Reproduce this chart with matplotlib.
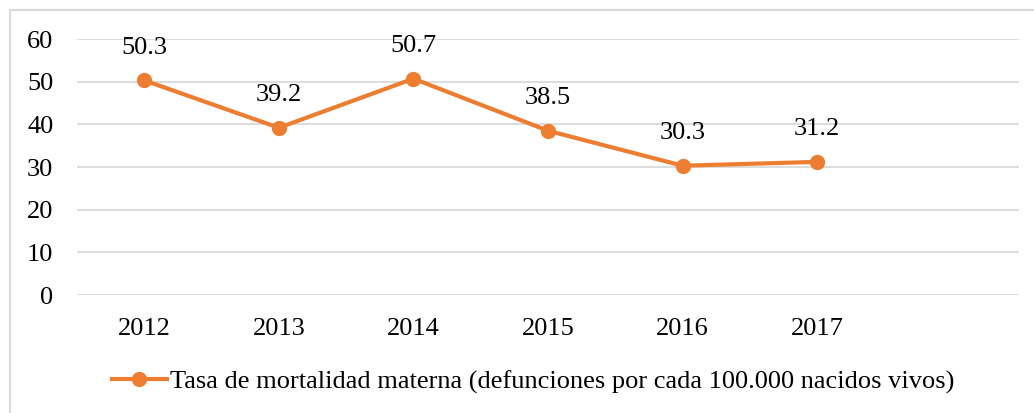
import matplotlib
matplotlib.use("Agg")
import matplotlib.pyplot as plt
from matplotlib.patches import Rectangle
from matplotlib.lines import Line2D

years = ["2012", "2013", "2014", "2015", "2016", "2017"]
values = [50.3, 39.2, 50.7, 38.5, 30.3, 31.2]
yticks = [0, 10, 20, 30, 40, 50, 60]
series_name = "Tasa de mortalidad materna (defunciones por cada 100.000 nacidos vivos)"

plt.rcParams['font.family'] = ['Liberation Serif', 'DejaVu Serif']
color = '#ED7D31'
fs = 19

fig = plt.figure(figsize=(10.34, 4.13), dpi=100)
fig.patches.append(Rectangle((10/1034, -0.1), 1.1, (413-10)/413 + 0.1, transform=fig.transFigure,
                             fill=False, edgecolor='#D9D9D9', linewidth=1.5))
ax = fig.add_axes([77/1034, 1 - 295/413, (1019-77)/1034, (295-39)/413])

x = list(range(len(years)))
ax.plot(x, values, color=color, linewidth=3, marker='o', markersize=10, zorder=3,
        solid_capstyle='round')
for xi, v in zip(x, values):
    ax.annotate(f"{v:.1f}", (xi, v), xytext=(0, 23.5), textcoords='offset points',
                ha='center', va='center', fontsize=fs, color='#000000')

ax.set_xlim(-0.5, 6.5)
ax.set_ylim(0, 60)
ax.set_yticks(yticks)
ax.set_xticks(x)
ax.set_xticklabels(years)
ax.grid(axis='y', color='#D9D9D9', linewidth=1.3)
ax.set_axisbelow(True)
for s in ax.spines.values():
    s.set_visible(False)
ax.tick_params(axis='both', length=0, labelsize=fs, colors='#000000')
ax.tick_params(axis='y', pad=17)
ax.tick_params(axis='x', pad=16.5)

handle = Line2D([], [], color=color, linewidth=3, marker='o', markersize=10)
fig.legend([handle], [series_name], loc='center', bbox_to_anchor=(533/1034, 1 - 382/413),
           frameon=False, fontsize=fs, handlelength=2.1, handletextpad=0.1)

fig.savefig("out.png", dpi=100)
